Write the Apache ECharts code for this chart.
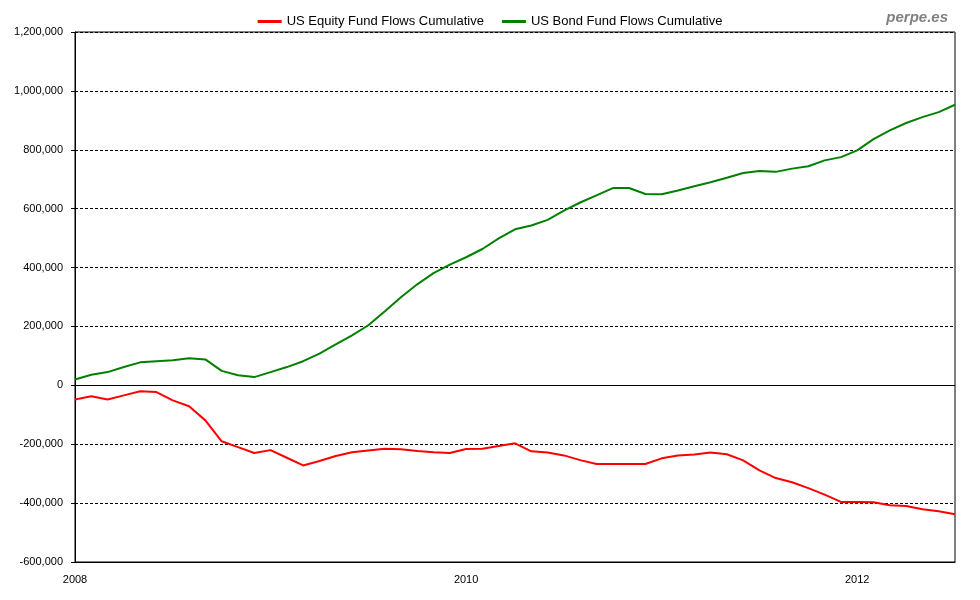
<!DOCTYPE html>
<html>
<head>
<meta charset="utf-8">
<script src="https://cdn.jsdelivr.net/npm/echarts@6/dist/echarts.min.js"></script>
<style>html,body{margin:0;padding:0;background:#fff}#c{width:980px;height:600px}</style>
</head>
<body>
<div id="c"></div>
<script>
var months = [
 '2008-01','2008-02','2008-03','2008-04','2008-05','2008-06','2008-07','2008-08','2008-09','2008-10','2008-11','2008-12',
 '2009-01','2009-02','2009-03','2009-04','2009-05','2009-06','2009-07','2009-08','2009-09','2009-10','2009-11','2009-12',
 '2010-01','2010-02','2010-03','2010-04','2010-05','2010-06','2010-07','2010-08','2010-09','2010-10','2010-11','2010-12',
 '2011-01','2011-02','2011-03','2011-04','2011-05','2011-06','2011-07','2011-08','2011-09','2011-10','2011-11','2011-12',
 '2012-01','2012-02','2012-03','2012-04','2012-05','2012-06','2012-07'
];
var equityFlows = [
 -48000,-37000,-48000,-34000,-20000,-23000,-51000,-71000,-119000,-190000,-210000,-230000,
 -220000,-246000,-272000,-257000,-240000,-227000,-221000,-215000,-217000,-223000,-227000,-230000,
 -216000,-215000,-206000,-197000,-224000,-228000,-238000,-254000,-267000,-267000,-267000,-267000,
 -248000,-238000,-235000,-228000,-234000,-255000,-289000,-315000,-329000,-349000,-371000,-396000,
 -396000,-397000,-407000,-410000,-421000,-428000,-438000
];
var bondFlows = [
 20000,36000,45000,62000,78000,82000,85000,92000,88000,49000,34000,28000,
 45000,62000,82000,108000,139000,170000,204000,251000,299000,343000,381000,410000,
 435000,463000,499000,530000,543000,562000,593000,621000,645000,670000,670000,650000,
 649000,662000,676000,690000,705000,721000,728000,725000,736000,744000,764000,775000,
 798000,836000,866000,891000,911000,928000,953000
];
var seriesNames = ['US Equity Fund Flows Cumulative','US Bond Fund Flows Cumulative'];

var chart = echarts.init(document.getElementById('c'));
var font = 'Liberation Sans, Arial, sans-serif';
chart.setOption({
  animation: false,
  backgroundColor: '#fff',
  textStyle: {fontFamily: font},
  title: {
    text: 'perpe.es', right: 27, top: 5,
    textStyle: {color: '#808080', fontSize: 15, fontWeight: 'bold', fontStyle: 'italic', fontFamily: font}
  },
  legend: {
    top: 10, left: 'center', itemGap: 18, itemWidth: 24, itemHeight: 3,
    textStyle: {color: '#000', fontSize: 13, fontFamily: font},
    data: [{name: seriesNames[0], icon: 'rect'}, {name: seriesNames[1], icon: 'rect'}]
  },
  grid: {left: 75, right: 25, top: 32, bottom: 38, show: true, borderColor: '#000', borderWidth: 1},
  xAxis: {
    type: 'category', data: months, boundaryGap: false,
    axisLine: {onZero: false, lineStyle: {color: '#000'}},
    axisTick: {show: false},
    axisLabel: {interval: 23, color: '#000', fontSize: 11, margin: 12,
      formatter: function (v) { return v.slice(0, 4); }},
    splitLine: {show: false}
  },
  yAxis: {
    type: 'value', min: -600000, max: 1200000, interval: 200000,
    axisLine: {show: true, lineStyle: {color: '#000'}},
    axisTick: {show: true, length: 4, lineStyle: {color: '#000'}},
    axisLabel: {color: '#000', fontSize: 11, margin: 12,
      formatter: function (v) { return v.toLocaleString('en-US'); }},
    splitLine: {show: true, lineStyle: {color: '#000', type: [3, 2], width: 1}}
  },
  series: [
    {
      name: seriesNames[0], type: 'line', data: equityFlows, symbol: 'none',
      lineStyle: {color: '#ff0000', width: 2}, itemStyle: {color: '#ff0000'},
      markLine: {silent: true, symbol: 'none', label: {show: false},
        lineStyle: {color: '#000', type: 'solid', width: 1}, data: [{yAxis: 0}]}
    },
    {
      name: seriesNames[1], type: 'line', data: bondFlows, symbol: 'none',
      lineStyle: {color: '#008000', width: 2}, itemStyle: {color: '#008000'}
    }
  ]
});
</script>
</body>
</html>
